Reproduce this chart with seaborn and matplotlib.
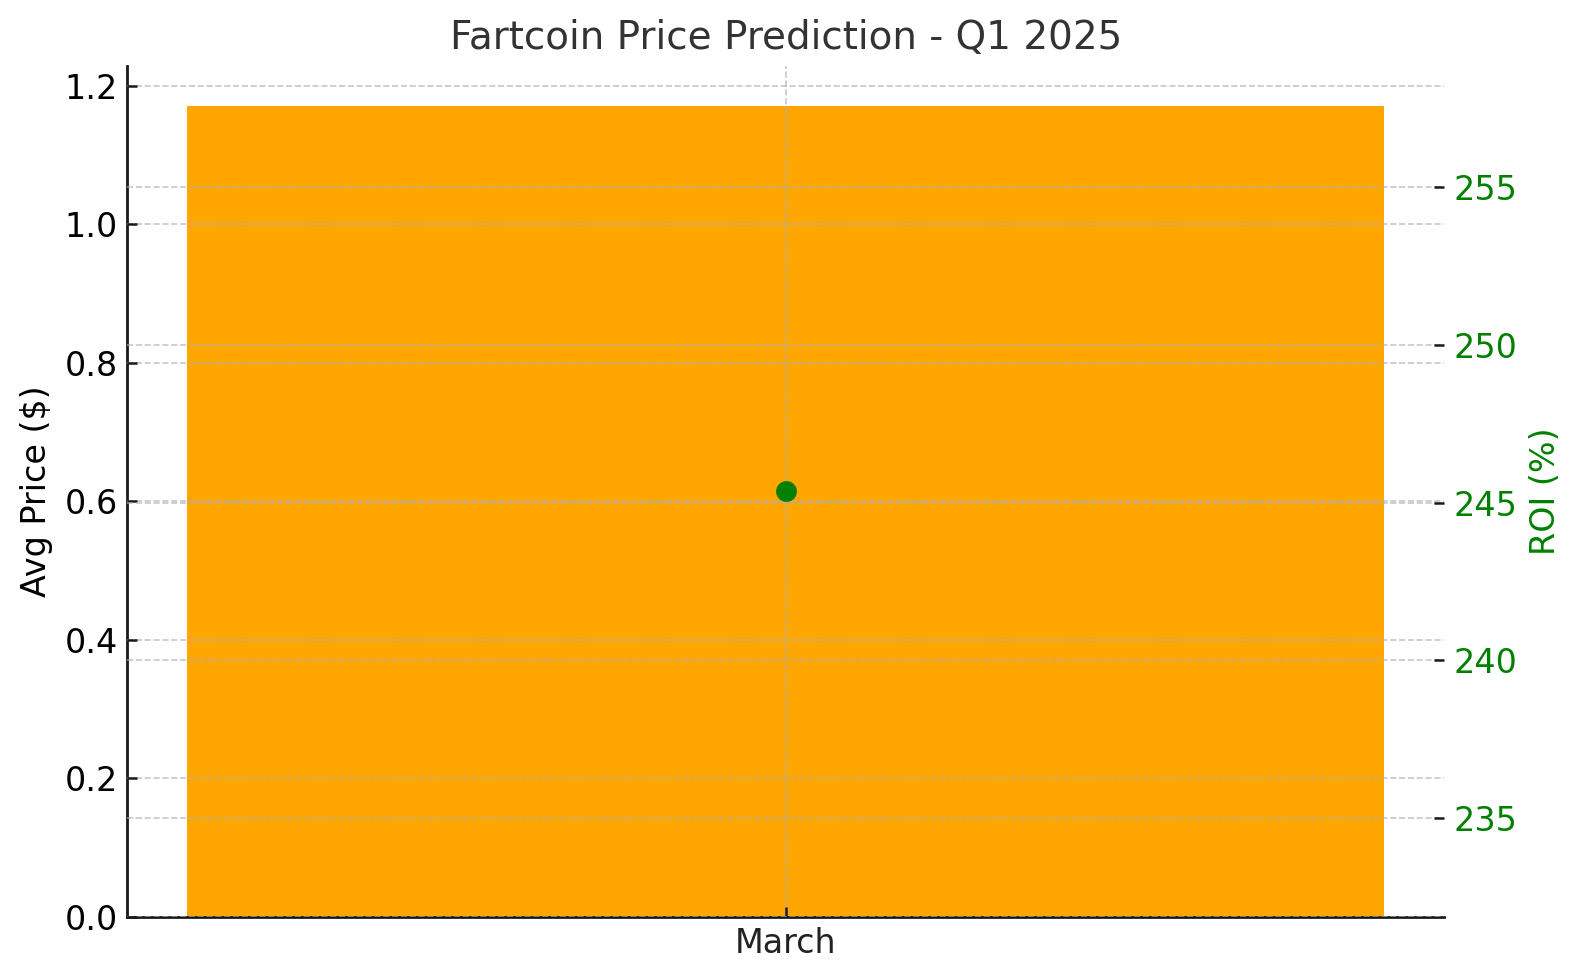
import matplotlib
matplotlib.use("Agg")
import matplotlib.pyplot as plt
import seaborn as sns
import pandas as pd

# ---- data ----
months = ["March"]
avg_price = [1.17]
roi_pct = [245.35]

title = "Fartcoin Price Prediction - Q1 2025"

df = pd.DataFrame({"Month": months, "Avg Price": avg_price, "ROI": roi_pct})

plt.rcParams["font.family"] = ["DejaVu Sans"]

fig = plt.figure(figsize=(7.9, 4.9), dpi=200)
ax = fig.add_axes([0.0806, 0.0643, 0.9139 - 0.0806, 0.9327 - 0.0643])

sns.barplot(data=df, x="Month", y="Avg Price", color="#FFA500", saturation=1,
            width=0.8, linewidth=0, ax=ax)

ax2 = ax.twinx()
sns.pointplot(data=df, x="Month", y="ROI", color="green", errorbar=None,
              markers="o", linestyles="none", markersize=7.5,
              markeredgewidth=0, ax=ax2)

# x-range like plain matplotlib bar autoscale (bar width 0.8 + 5% margins)
ax.set_xlim(-0.44, 0.44)

# labels
ax.set_title(title, fontsize=14, color="#333333", pad=6)
ax.set_xlabel("")
ax.set_ylabel("Avg Price ($)", fontsize=12, color="black")
ax2.set_xlabel("")
ax2.set_ylabel("ROI (%)", fontsize=12, color="green")

# ticks
ax.tick_params(axis="both", direction="in", length=3.5, width=0.9,
               labelsize=12, colors="#1a1a1a", labelcolor="black")
ax.tick_params(axis="x", labelcolor="#222222")
ax2.tick_params(axis="y", direction="in", length=3.5, width=0.9,
                labelsize=12, colors="#1a1a1a", labelcolor="green")

# spines
for s in ["top", "right"]:
    ax.spines[s].set_visible(False)
for s in ["top", "right", "left", "bottom"]:
    ax2.spines[s].set_visible(False)
for s in ["left", "bottom"]:
    ax.spines[s].set_linewidth(1.0)
    ax.spines[s].set_color("#1a1a1a")

# grids (drawn over the bar)
ax.set_axisbelow(False)
ax.grid(True, linestyle="--", linewidth=0.6, color="#b0b0b0", alpha=0.7)
ax2.set_axisbelow(False)
ax2.yaxis.grid(True, linestyle="--", linewidth=0.6, color="#b0b0b0", alpha=0.7)
ax2.xaxis.grid(False)

fig.savefig("out.png", dpi=200)
